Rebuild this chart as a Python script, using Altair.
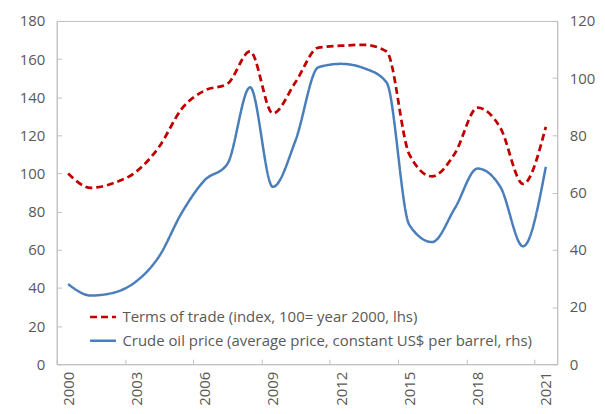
import altair as alt
import pandas as pd

years = list(range(2000, 2022))
terms_of_trade = [100, 92.5, 95, 101, 114, 134, 143.5, 147, 164, 131.5, 148, 166,
                  167, 167.5, 164, 110, 98.5, 110.5, 134.5, 124, 94.5, 124.5]
oil_price = [28, 24, 25, 29, 37.7, 53, 64.3, 70, 96.8, 62, 78.3, 103.8,
             105, 103.5, 98.5, 48.7, 42.7, 54.5, 68.4, 62, 41.2, 69]
series_names = ["Terms of trade (index, 100= year 2000, lhs)",
                "Crude oil price (average price, constant US$ per barrel, rhs)"]
series_colors = ["#C00000", "#4A7EBB"]
x_boundaries = [1999.5, 2002.5, 2005.5, 2008.5, 2011.5, 2014.5, 2017.5, 2020.5]
left_ticks = list(range(0, 181, 20))
right_ticks = list(range(0, 121, 20))

df_tot = pd.DataFrame({"year": years, "value": terms_of_trade, "series": series_names[0]})
df_oil = pd.DataFrame({"year": years, "value": oil_price, "series": series_names[1]})

W, H = 503, 345
half_band = W / len(years) / 2
FONT = "Open Sans"
GREY = "#595959"
AXIS_GREY = "#BFBFBF"

legend_cfg = dict(
    title=None, orient="none", legendX=32, legendY=283,
    symbolType="stroke", symbolSize=676, symbolStrokeWidth=2.5,
    labelFont=FONT, labelFontSize=15, labelColor=GREY, labelLimit=600,
    labelOffset=5, rowPadding=1,
)

color = alt.Color("series:N", scale=alt.Scale(domain=series_names, range=series_colors),
                  legend=alt.Legend(**legend_cfg))
dash = alt.StrokeDash("series:N", scale=alt.Scale(domain=series_names, range=[[7, 4], [1, 0]]),
                      legend=alt.Legend(**legend_cfg))

x_enc = alt.X("year:Q",
              scale=alt.Scale(domain=[1999.5, 2021.5], nice=False, zero=False),
              axis=alt.Axis(values=x_boundaries,
                            labelExpr="format(datum.value + 0.5, 'd')",
                            labelAngle=-90, labelOffset=half_band,
                            labelFlush=False, labelOverlap=False,
                            tickSize=alt.ExprRef(expr="-5"),
                            labelPadding=12, title=None, grid=False))

red = alt.Chart(df_tot).mark_line(strokeWidth=2.75, interpolate="monotone").encode(
    x=x_enc,
    y=alt.Y("value:Q", scale=alt.Scale(domain=[0, 180], nice=False),
            axis=alt.Axis(values=left_ticks, orient="left", title=None, grid=False,
                          tickSize=alt.ExprRef(expr="-5"), labelPadding=17)),
    color=color, strokeDash=dash,
)

blue = alt.Chart(df_oil).mark_line(strokeWidth=2.5, interpolate="monotone").encode(
    x=x_enc,
    y=alt.Y("value:Q", scale=alt.Scale(domain=[0, 120], nice=False),
            axis=alt.Axis(values=right_ticks, orient="right", title=None, grid=False,
                          tickSize=alt.ExprRef(expr="-5"), labelPadding=17)),
    color=color, strokeDash=dash,
)

chart = alt.layer(red, blue).resolve_scale(y="independent").properties(
    width=W, height=H,
    autosize=alt.AutoSizeParams(type="none"),
    padding={"left": 49, "top": 12, "right": 40, "bottom": 40},
).configure_view(stroke=AXIS_GREY).configure_axis(
    labelFont=FONT, labelFontSize=15, labelColor=GREY,
    domainColor=AXIS_GREY, tickColor=AXIS_GREY, domainWidth=1,
)

chart.save("out.html", embed_options={"renderer": "svg", "actions": False})
